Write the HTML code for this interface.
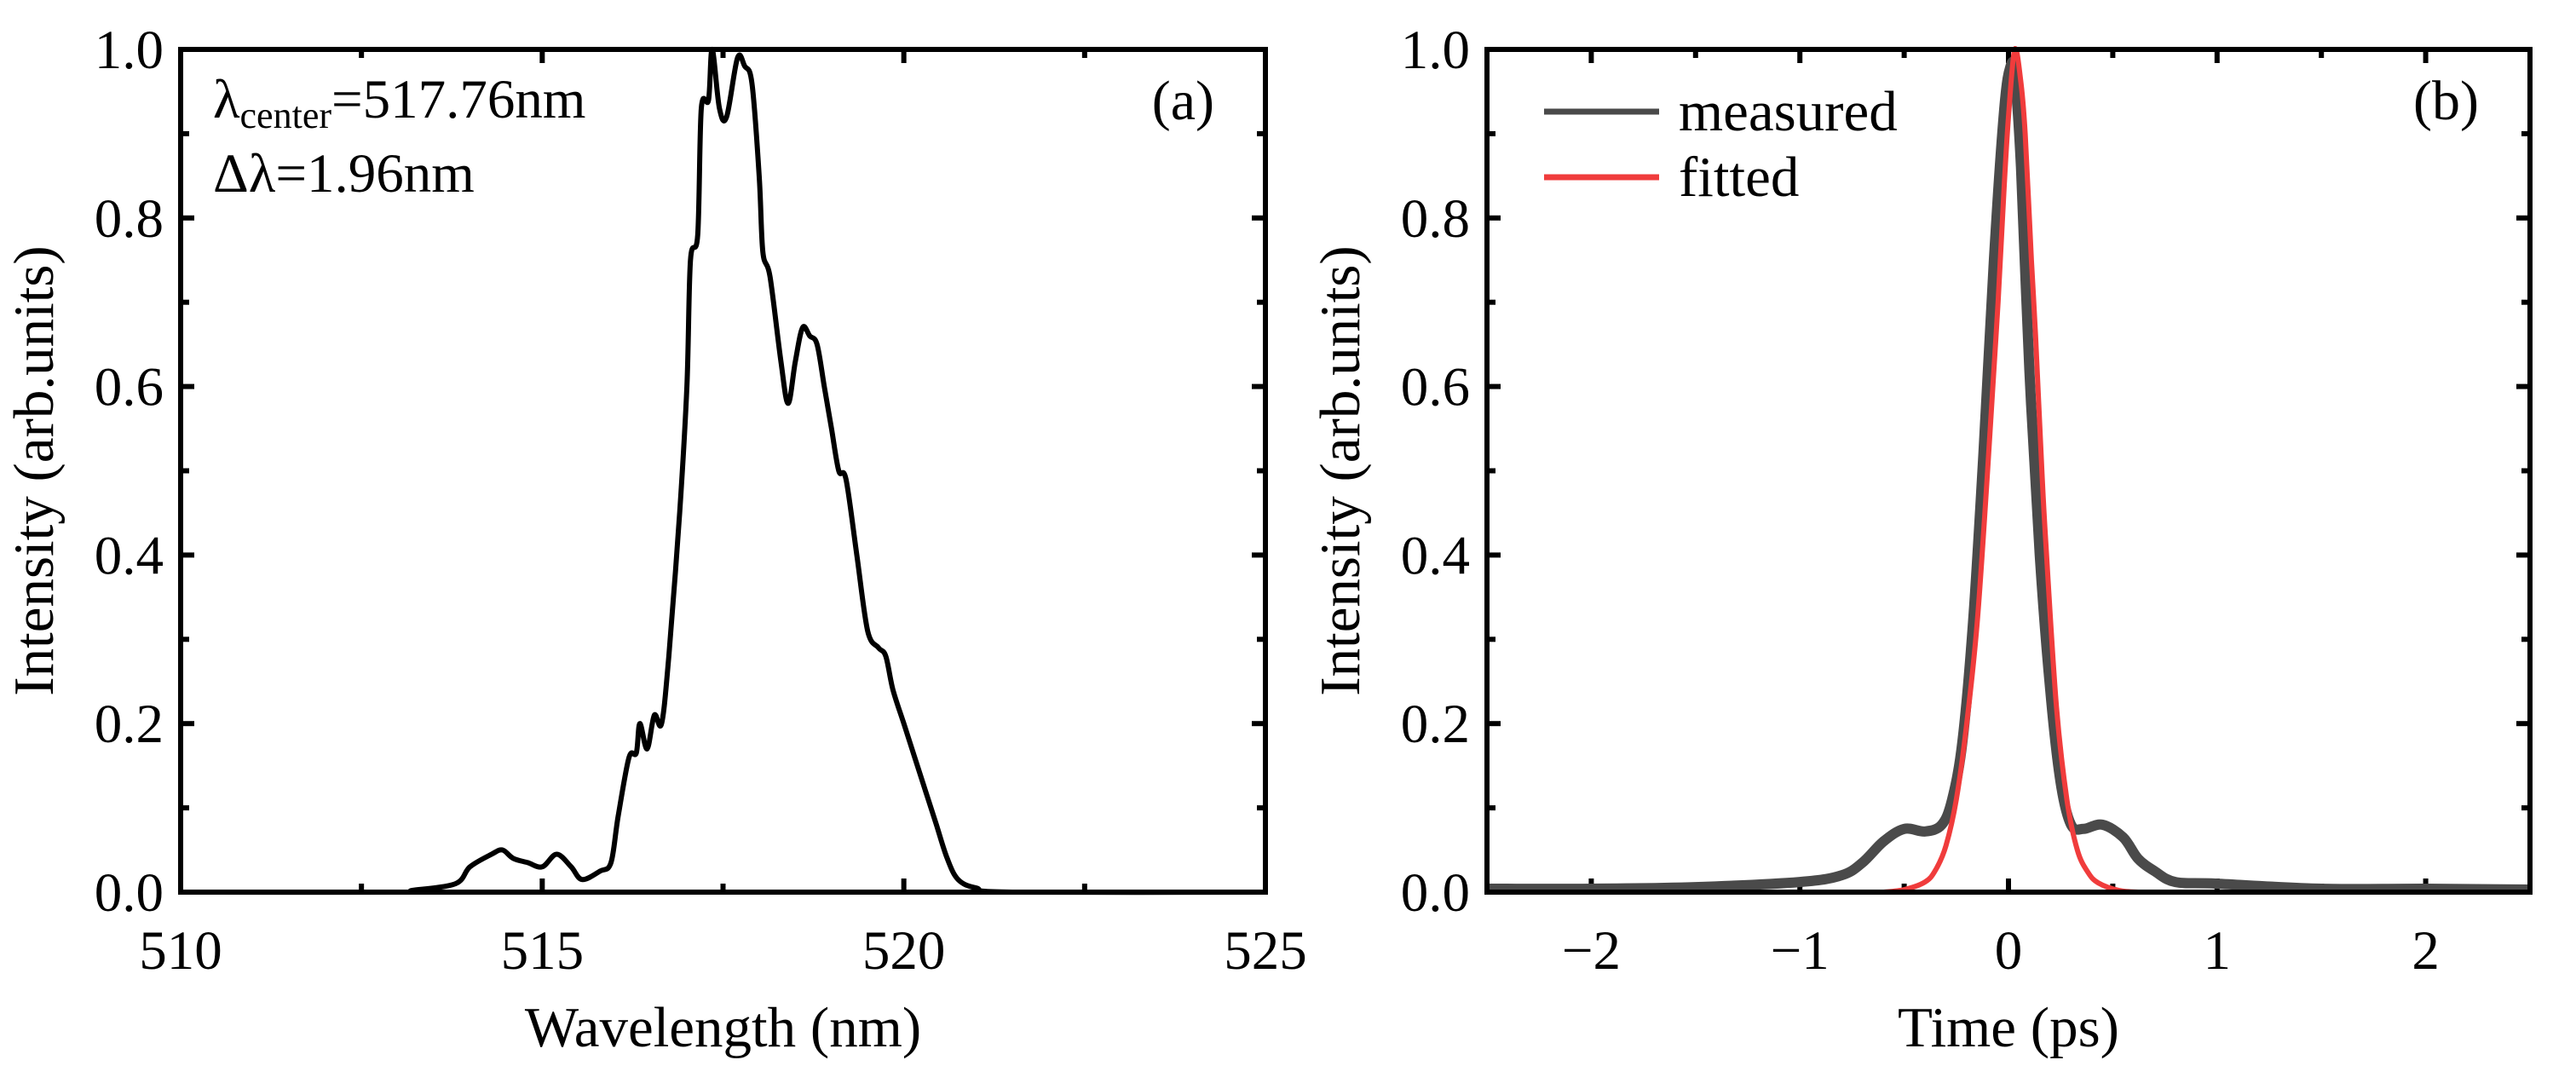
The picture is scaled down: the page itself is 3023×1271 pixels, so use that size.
<!DOCTYPE html>
<html><head><meta charset="utf-8"><style>
html,body{margin:0;padding:0;background:#fff;}
svg{display:block;font-family:"Liberation Serif","DejaVu Serif",serif;}
</style></head><body>
<svg id="fig" width="3023" height="1271" viewBox="0 0 3023 1271" xmlns="http://www.w3.org/2000/svg"></svg>
<script>
const specX=[510,513,513.2,513.8,514.0,514.3,514.45,514.6,514.8,515.0,515.2,515.4,515.55,515.8,515.95,516.05,516.2,516.3,516.35,516.45,516.55,516.65,516.75,516.9,517.0,517.05,517.15,517.2,517.3,517.35,517.45,517.55,517.7,517.8,517.9,518.0,518.05,518.15,518.3,518.4,518.5,518.6,518.7,518.8,518.9,519.0,519.1,519.2,519.35,519.5,519.65,519.75,519.85,520.0,520.15,520.3,520.45,520.6,520.75,521.0,521.5,525];
const specY=[0,0,0.002,0.01,0.03,0.045,0.05,0.04,0.035,0.03,0.045,0.03,0.015,0.025,0.035,0.09,0.16,0.165,0.2,0.17,0.21,0.2,0.28,0.45,0.6,0.75,0.78,0.93,0.94,1.0,0.93,0.92,0.99,0.98,0.96,0.85,0.76,0.73,0.63,0.58,0.63,0.67,0.66,0.65,0.6,0.55,0.5,0.49,0.4,0.31,0.29,0.28,0.24,0.2,0.16,0.12,0.08,0.04,0.015,0.005,0,0];
const measT=[-2.5,-2.0,-1.5,-1.0,-0.8,-0.7,-0.6,-0.5,-0.4,-0.32,-0.27,-0.22,-0.17,-0.12,-0.07,-0.02,0.01,0.03,0.06,0.1,0.15,0.2,0.25,0.3,0.36,0.45,0.55,0.62,0.7,0.8,1.0,1.5,2.0,2.5];
const measI=[0.004,0.004,0.006,0.012,0.02,0.035,0.06,0.075,0.072,0.08,0.11,0.18,0.32,0.52,0.75,0.93,0.98,0.97,0.86,0.62,0.4,0.24,0.13,0.08,0.075,0.08,0.065,0.04,0.025,0.012,0.01,0.004,0.004,0.003];
const fitT=[-0.6,-0.5,-0.4,-0.35,-0.3,-0.25,-0.2,-0.15,-0.1,-0.07,-0.05,-0.02,0,0.03,0.06,0.08,0.11,0.13,0.16,0.18,0.23,0.28,0.33,0.38,0.43,0.53,0.63];
const fitI=[0,0.003,0.012,0.026,0.055,0.11,0.2,0.32,0.5,0.62,0.7,0.84,0.92,1.0,0.96,0.9,0.75,0.66,0.5,0.41,0.22,0.11,0.05,0.024,0.011,0.002,0];
const xTicksA=[510,515,520,525];
const yTicks=[0,0.2,0.4,0.6,0.8,1.0];
const xTicksB=[-2,-1,0,1,2];
const NS="http://www.w3.org/2000/svg";
const svg=document.getElementById('fig');
function el(tag,attrs,parent){const e=document.createElementNS(NS,tag);for(const k in attrs)e.setAttribute(k,attrs[k]);(parent||svg).appendChild(e);return e;}
function path(xs,ys,sx,sy){
  const p=xs.map((x,i)=>[sx(x),sy(ys[i])]);
  let d='M'+p[0][0].toFixed(1)+','+p[0][1].toFixed(1);
  for(let i=0;i<p.length-1;i++){const p0=p[Math.max(0,i-1)],p1=p[i],p2=p[i+1],p3=p[Math.min(p.length-1,i+2)];
    const c1=[p1[0]+(p2[0]-p0[0])/6,p1[1]+(p2[1]-p0[1])/6],c2=[p2[0]-(p3[0]-p1[0])/6,p2[1]-(p3[1]-p1[1])/6];
    d+=' C'+c1[0].toFixed(1)+','+c1[1].toFixed(1)+' '+c2[0].toFixed(1)+','+c2[1].toFixed(1)+' '+p2[0].toFixed(1)+','+p2[1].toFixed(1);}
  return d;}
function panel(o){
  const g=el('g',{});
  
  
  const sx=v=>o.L+(v-o.x0)/(o.x1-o.x0)*(o.R-o.L);
  const sy=v=>o.B-(v-0)/(1-0)*(o.B-o.T);
  const tk=16,mk=10;
  const ax=el('g',{stroke:'#000','stroke-width':6},g);
  
  
  for(let v=o.x0;v<=o.x1+1e-9;v+=o.xminor){const x=sx(v);const major=o.xticks.some(t=>Math.abs(t-v)<1e-6);const l=major?tk:mk;
    el('line',{x1:x,y1:o.B,x2:x,y2:o.B-l},ax);el('line',{x1:x,y1:o.T,x2:x,y2:o.T+l},ax);}
  for(let v=0;v<=1+1e-9;v+=0.1){const y=sy(v);const major=Math.round(v*10)%2===0;const l=major?tk:mk;
    el('line',{x1:o.L,y1:y,x2:o.L+l,y2:y},ax);el('line',{x1:o.R,y1:y,x2:o.R-l,y2:y},ax);}
  o.xticks.forEach(t=>{const tx=el('text',{x:sx(t),y:o.B+90,'font-size':65,'text-anchor':'middle'},g);
    
    
    tx.textContent=t<0?'\u2212'+Math.abs(t):String(t);});
  yTicks.forEach(t=>{const tx=el('text',{x:o.L-20,y:sy(t)+22,'font-size':65,'text-anchor':'end'},g);
    
    
    tx.textContent=t.toFixed(1);});
  const cx=(o.L+o.R)/2,cy=(o.T+o.B)/2;
  const xt=el('text',{x:cx,y:1228,'font-size':67,'text-anchor':'middle'},g);
  
  
  xt.textContent=o.xtitle;
  const yx=o.L-150;
  const yt=el('text',{x:yx,y:cy,'font-size':67,'text-anchor':'middle',transform:'rotate(-90 '+yx+' '+cy+')'},g);
  
  
  yt.textContent='Intensity (arb.units)';
  o.series.forEach(s=>{const p=el('path',{d:path(s.x,s.y,sx,sy),fill:'none',stroke:s.color,'stroke-width':s.w,'stroke-linejoin':'round'},g);
    
    });
  const fr=el('rect',{x:o.L,y:o.T,width:o.R-o.L,height:o.B-o.T,fill:'none',stroke:'#000','stroke-width':6},g);
  
  
  const lb=el('text',{x:o.R-60,y:o.T+82,'font-size':66,'text-anchor':'end'},g);
  
  
  lb.textContent=o.label;
  return g;}
panel({name:'spectrum-panel',L:212,R:1485,T:58,B:1047,x0:510,x1:525,xminor:2.5,xticks:xTicksA,xtitle:'Wavelength (nm)',label:'(a)',
  series:[{name:'spectrum-line',x:specX,y:specY,color:'#000',w:6}]});
panel({name:'autocorrelation-panel',L:1745,R:2969,T:58,B:1047,x0:-2.5,x1:2.5,xminor:0.5,xticks:xTicksB,xtitle:'Time (ps)',label:'(b)',
  series:[{name:'measured-line',x:measT,y:measI,color:'#4a4a4a',w:12},{name:'fitted-line',x:fitT,y:fitI,color:'#f03c3c',w:6}]});
const a1=el('text',{x:250,y:138,'font-size':65});


a1.innerHTML='λ<tspan font-size="44" dy="12">center</tspan><tspan dy="-12">=517.76nm</tspan>';
const a2=el('text',{x:250,y:225,'font-size':65});


a2.textContent='Δλ=1.96nm';
const lg=el('g',{});


[['measured','#4a4a4a',131],['fitted','#f03c3c',208]].forEach(([t,c,y])=>{
  const ln=el('line',{x1:1812,y1:y,x2:1947,y2:y,stroke:c,'stroke-width':7},lg);
  
  
  const tx=el('text',{x:1970,y:y+22,'font-size':67},lg);
  
  
  tx.textContent=t;});
</script>
</body></html>
